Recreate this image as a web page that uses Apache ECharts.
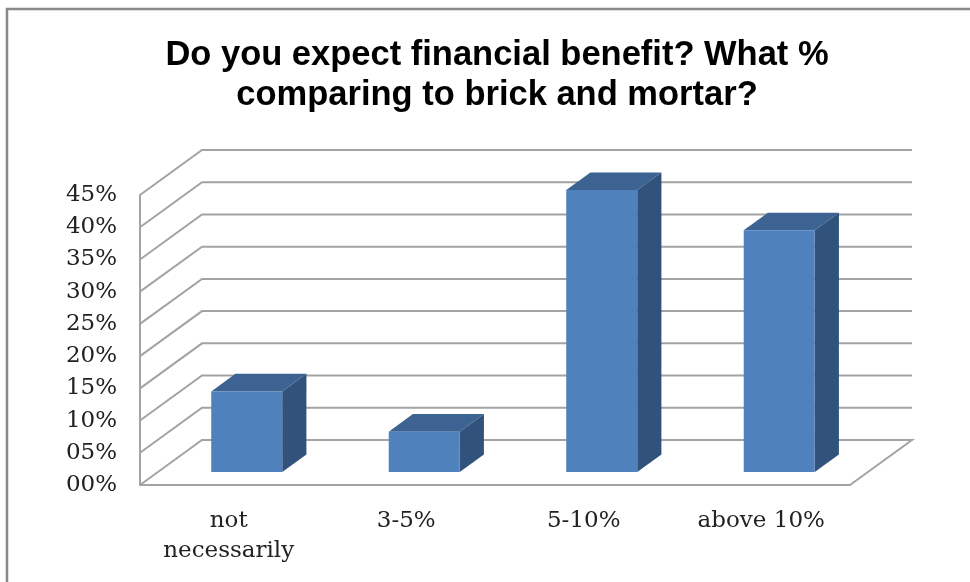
<!DOCTYPE html>
<html>
<head>
<meta charset="utf-8">
<script src="https://cdn.jsdelivr.net/npm/echarts@6/dist/echarts.min.js"></script>
<style>
html,body{margin:0;padding:0;background:#fff;}
#chart{width:970px;height:582px;}
</style>
</head>
<body>
<div id="chart"></div>
<script>
// ---- data ----
const titleText = 'Do you expect financial benefit? What %\ncomparing to brick and mortar?';
const categories = ['not\nnecessarily', '3-5%', '5-10%', 'above 10%'];
const values = [12.5, 6.25, 43.75, 37.5];
const yTicks = [0, 5, 10, 15, 20, 25, 30, 35, 40, 45];

// ---- 3D styling (layout only) ----
const DX = 62, DY = -45;          // depth of the walls
const FRONT = 0.29, DEPTH = 0.39; // bar position / depth as fraction of wall depth
const GRID_COLOR = '#a3a3a3';

const chart = echarts.init(document.getElementById('chart'), null, {renderer: 'canvas'});

function wallItem(params, api) {
  const v = api.value(1);
  const y = api.coord([0, v])[1];
  const cs = params.coordSys;
  const left = cs.x, right = cs.x + cs.width;
  const pts = [[left, y], [left + DX, y + DY], [right + DX, y + DY]];
  if (v === 0) pts.push([right, y]);
  return {
    type: 'polyline',
    shape: {points: pts},
    style: {stroke: GRID_COLOR, lineWidth: 2, fill: null}
  };
}

function barItem(params, api) {
  const cat = api.value(0), val = api.value(1);
  const base = api.coord([cat, 0]);
  const top = api.coord([cat, val]);
  const bw = api.size([1, 0])[0] * 0.4;
  const fx = DX * FRONT, fy = DY * FRONT;
  const bdx = DX * DEPTH, bdy = DY * DEPTH;
  const L = base[0] + fx - bw / 2, R = base[0] + fx + bw / 2;
  const B = base[1] + fy, T = top[1] + fy;
  return {
    type: 'group',
    children: [
      {type: 'polygon', shape: {points: [[R, T], [R + bdx, T + bdy], [R + bdx, B + bdy], [R, B]]},
       style: {fill: '#30527b'}},
      {type: 'polygon', shape: {points: [[L, T], [R, T], [R + bdx, T + bdy], [L + bdx, T + bdy]]},
       style: {fill: '#3c6392'}},
      {type: 'rect', shape: {x: L, y: T, width: R - L, height: B - T},
       style: {fill: '#4f81bd'}}
    ]
  };
}

const option = {
  backgroundColor: '#ffffff',
  animation: false,
  title: {
    text: titleText,
    left: 492,
    top: 30,
    textAlign: 'center',
    textStyle: {
      fontFamily: 'Liberation Sans, Arial, sans-serif',
      fontWeight: 'bold',
      fontSize: 34.5,
      lineHeight: 40,
      color: '#000'
    }
  },
  graphic: [{
    type: 'rect',
    shape: {x: 7, y: 9, width: 1000, height: 1000},
    style: {fill: null, stroke: '#898989', lineWidth: 2.5},
    silent: true,
    z: -10
  }],
  grid: {left: 140, right: 120, top: 195, bottom: 97, containLabel: false},
  xAxis: {
    type: 'category',
    data: categories,
    axisLine: {show: true, lineStyle: {color: GRID_COLOR, width: 2}},
    axisTick: {show: false},
    splitLine: {show: false},
    axisLabel: {
      interval: 0,
      margin: 21,
      fontFamily: 'DejaVu Serif, serif',
      fontSize: 23,
      lineHeight: 30,
      color: '#222'
    }
  },
  yAxis: {
    type: 'value',
    min: 0,
    max: 45,
    interval: 5,
    axisLine: {show: true, lineStyle: {color: GRID_COLOR, width: 2}},
    axisTick: {show: false},
    splitLine: {show: false},
    axisLabel: {
      margin: 23,
      fontFamily: 'DejaVu Serif, serif',
      fontSize: 23,
      color: '#222',
      padding: [8, 0, 0, 0],
      formatter: v => (v < 10 ? '0' : '') + v + '%'
    }
  },
  series: [
    {
      type: 'custom',
      name: 'walls',
      clip: false,
      silent: true,
      z: 1,
      renderItem: wallItem,
      encode: {x: 0, y: 1},
      data: yTicks.map(t => [0, t])
    },
    {
      type: 'custom',
      name: 'bars',
      clip: false,
      z: 5,
      renderItem: barItem,
      encode: {x: 0, y: 1},
      data: values.map((v, i) => [i, v])
    }
  ]
};
chart.setOption(option);
</script>
</body>
</html>
